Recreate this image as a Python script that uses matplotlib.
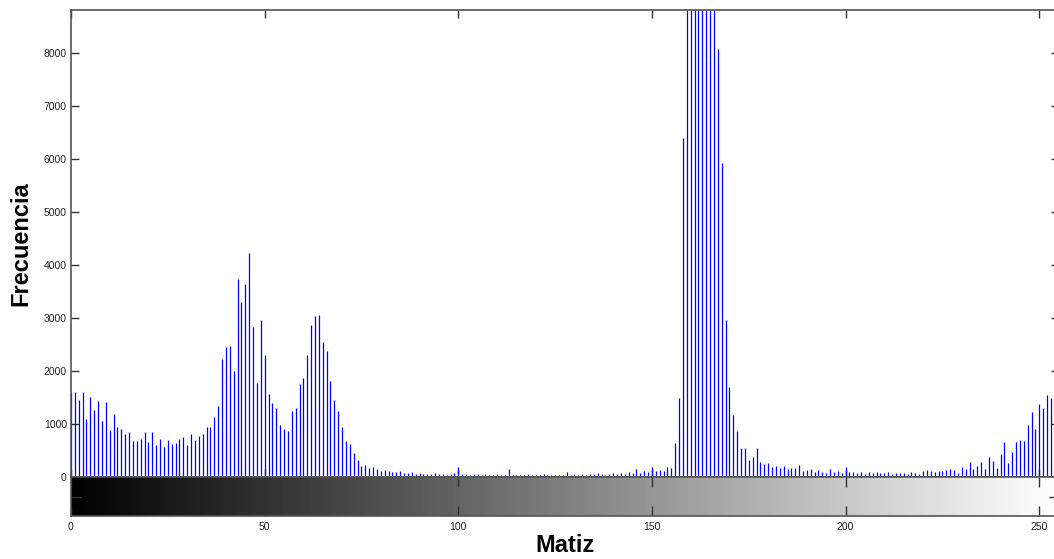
import matplotlib
matplotlib.use("Agg")
import matplotlib.pyplot as plt
import numpy as np

plt.rcParams['font.family'] = ['Liberation Sans', 'DejaVu Sans']

# ==========================================================
# DATOS (histograma de matiz, 256 niveles)
# ==========================================================
matiz = np.arange(256)

frec_0_78 = [1600, 1604, 1453, 1604, 1094, 1515, 1270, 1428, 1057, 1409,
             881, 1189, 950, 900, 811, 849, 685, 673, 711, 849,
             654, 849, 604, 723, 566, 692, 623, 635, 711, 755,
             604, 811, 690, 774, 811, 937, 937, 1130, 1340, 2226,
             2453, 2472, 1994, 3742, 3302, 3642, 4220, 2824, 1767, 2962,
             2296, 1566, 1396, 1302, 975, 912, 862, 1239, 1302, 1755,
             1874, 2296, 2874, 3032, 3051, 2541, 2383, 1818, 1450, 1239,
             937, 673, 623, 445, 321, 208, 226, 176, 195]

frec_79_155 = [150, 120, 130, 110, 100, 90, 110, 80, 70, 90,
               60, 70, 60, 50, 60, 80, 50, 60, 40, 50,
               70, 183, 60, 50, 40, 60, 50, 40, 50, 30,
               40, 50, 30, 40, 157, 40, 30, 40, 30, 50,
               40, 30, 40, 50, 40, 30, 40, 30, 40, 100,
               40, 50, 40, 50, 40, 60, 50, 70, 50, 40,
               60, 80, 50, 70, 60, 100, 70, 157, 80, 110,
               90, 195, 120, 140, 120, 190, 176]

frec_156_188 = [635, 1484, 6390, 12000, 16000, 19000, 21000, 20000, 17000, 14000,
                10500, 8069, 5931, 2962, 1692, 1170, 868, 545, 545, 321,
                384, 547, 283, 245, 264, 195, 208, 176, 208, 157,
                164, 164, 226]

frec_189_213 = [110, 130, 157, 90, 140, 100, 80, 150, 90, 110,
                80, 180, 90, 100, 80, 90, 60, 90, 70, 100,
                80, 70, 90, 60, 80]

frec_214_255 = [70, 70, 57, 94, 76, 57, 107, 126, 120, 89,
                113, 107, 132, 145, 126, 82, 195, 150, 283, 145,
                214, 283, 150, 371, 302, 164, 428, 654, 264, 472,
                654, 692, 673, 987, 1220, 906, 1384, 1308, 1541, 1484,
                1500, 1500]

frecuencia = np.array(frec_0_78 + frec_79_155 + frec_156_188 + frec_189_213 + frec_214_255)

# ==========================================================
# FIGURA
# ==========================================================
W, H = 1054, 559
fig = plt.figure(figsize=(W / 100, H / 100), dpi=100)

x0 = 71.0
x_fin = 71.0 + 255 * 3.873
ax = fig.add_axes([x0 / W, 1 - 477 / H, (x_fin - x0) / W, (477 - 10) / H])
ax_cb = fig.add_axes([x0 / W, 1 - 516 / H, (x_fin - x0) / W, (516 - 477) / H])

# Histograma tipo stem (lineas verticales)
ax.vlines(matiz, 0, frecuencia, color='#0000ff', linewidth=0.9)
ax.set_xlim(0, 255)
ax.set_ylim(0, 8811)
ax.set_yticks(np.arange(0, 9000, 1000))
ax.set_xticks(np.arange(0, 256, 50))
ax.set_xticklabels([])
ax.tick_params(direction='in', length=6, width=1, top=True, right=True,
               labelsize=7.5, pad=3, color='#333333', labelcolor='#222222')
ax.set_ylabel('Frecuencia', fontsize=17, fontweight='bold', labelpad=8)

# Barra de gris (gradiente)
gradiente = np.linspace(0, 1, 256).reshape(1, -1)
ax_cb.imshow(gradiente, cmap='gray', aspect='auto', extent=[0, 255, 0, 1],
             interpolation='bilinear')
ax_cb.set_xlim(0, 255)
ax_cb.set_ylim(0, 1)
ax_cb.set_xticks(np.arange(0, 256, 50))
ax_cb.set_yticks([0.5])
ax_cb.set_yticklabels([])
ax_cb.tick_params(direction='in', length=7, width=1, top=True, right=True,
                  labelsize=7.5, pad=4, color='#333333', labelcolor='#222222')
ax_cb.set_xlabel('Matiz', fontsize=17, fontweight='bold', labelpad=2)

for a in (ax, ax_cb):
    for s in a.spines.values():
        s.set_color('#555555')
        s.set_linewidth(1.2)

fig.savefig('out.png', dpi=100)
